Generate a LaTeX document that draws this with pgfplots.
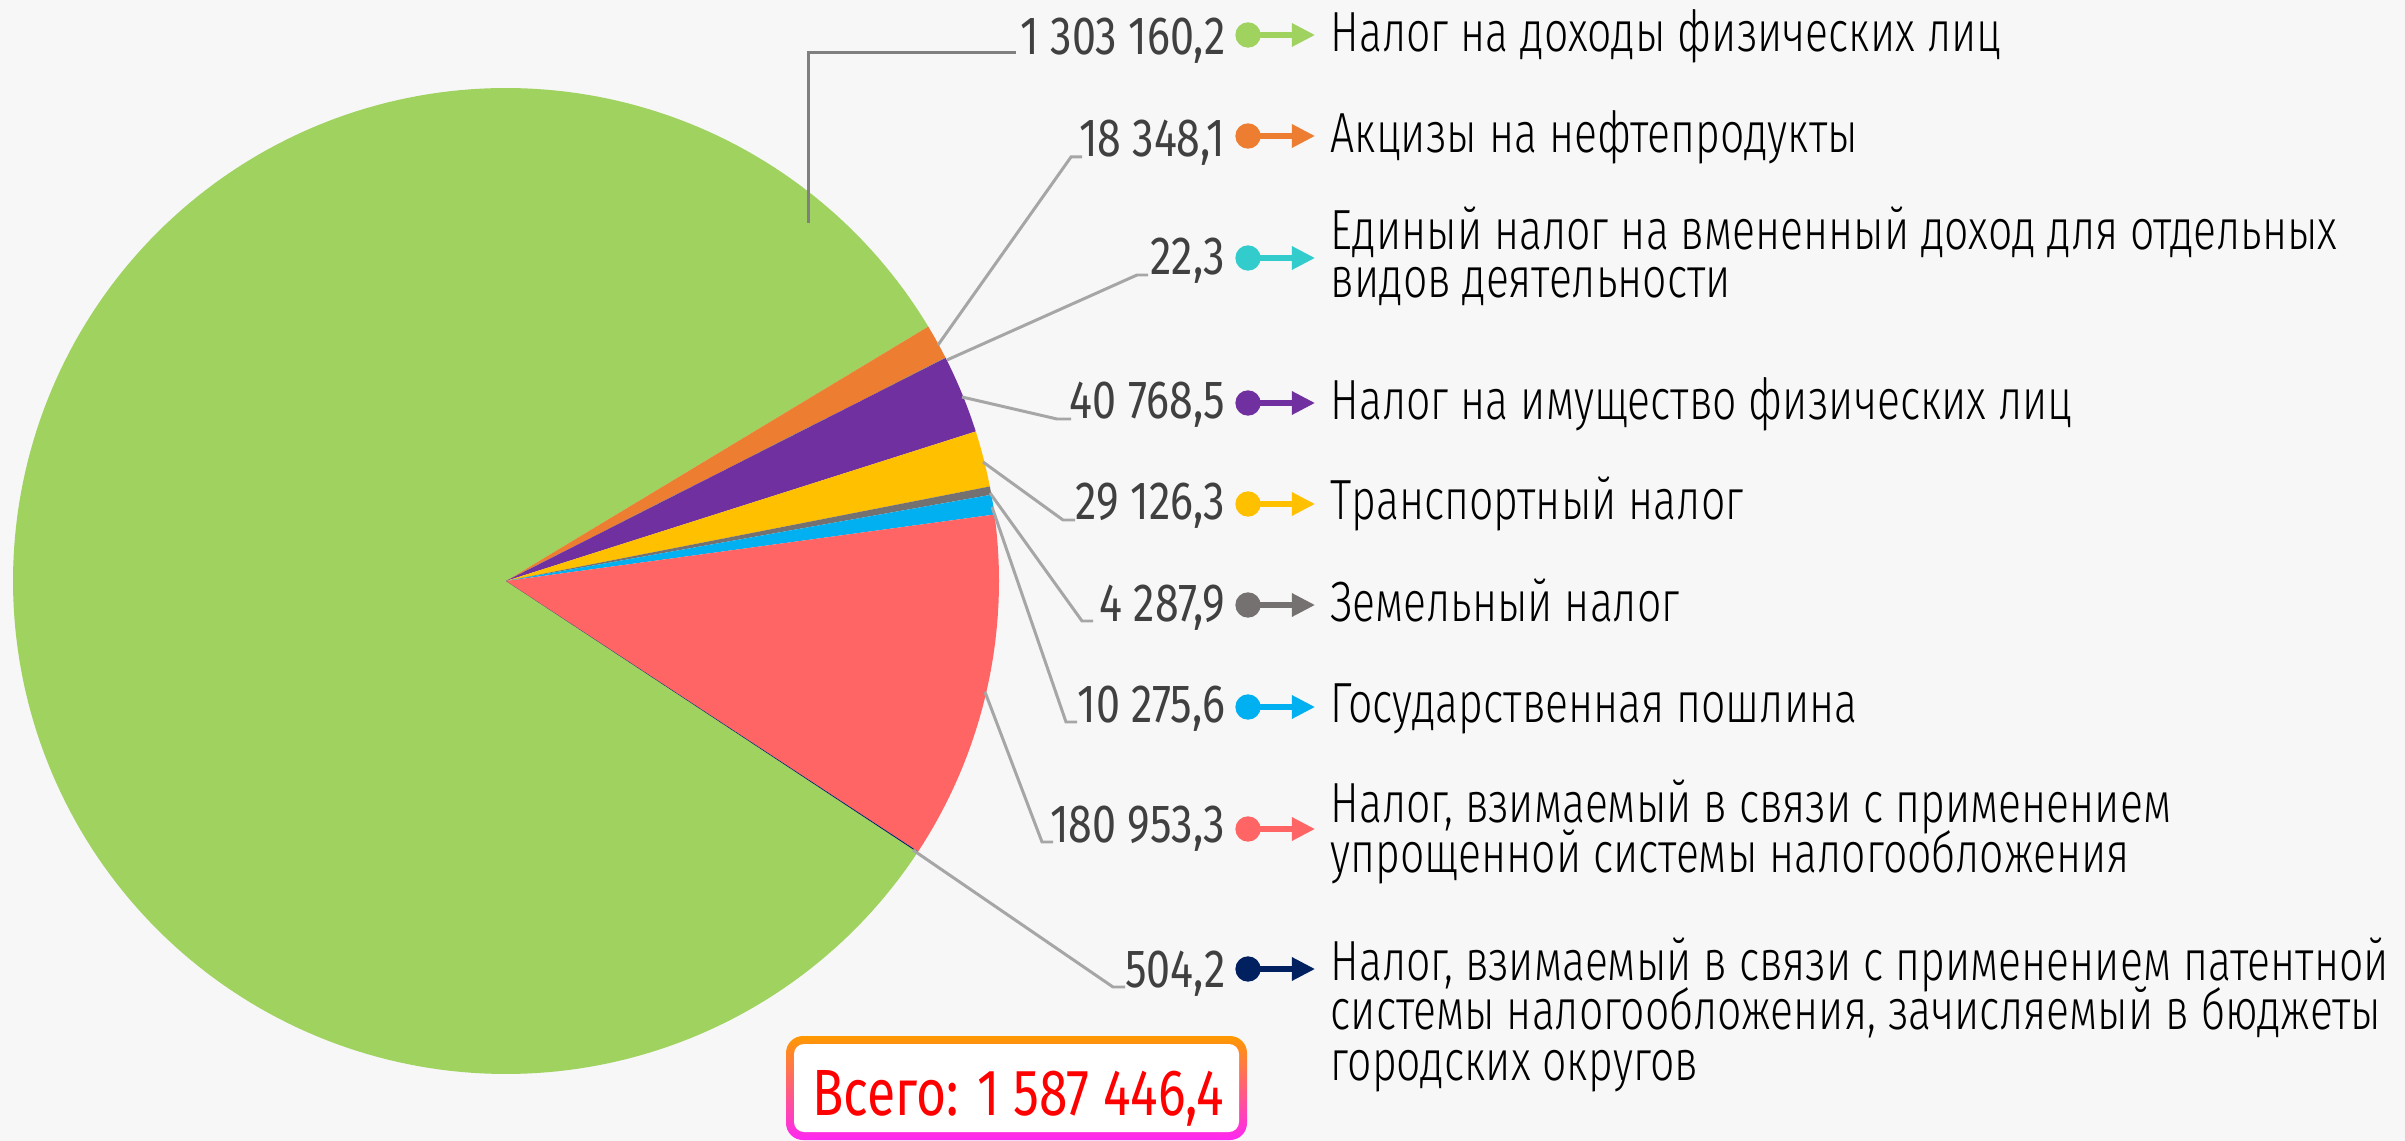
\documentclass[border=0pt]{standalone}
\usepackage{fontspec}
\usepackage{pgfplots}
\pgfplotsset{compat=1.18}
\usetikzlibrary{arrows.meta}
\newfontfamily\lbl{Fira Sans Light}[FakeStretch=0.755]
\newfontfamily\num{Fira Sans}[FakeStretch=0.8]
\definecolor{pgreen}{HTML}{9FD25F}
\definecolor{porange}{HTML}{ED7D31}
\definecolor{pcyan}{HTML}{33CCCC}
\definecolor{ppurple}{HTML}{7030A0}
\definecolor{pyellow}{HTML}{FFC000}
\definecolor{pgray}{HTML}{767171}
\definecolor{pblue}{HTML}{00B0F0}
\definecolor{pred}{HTML}{FF6565}
\definecolor{pnavy}{HTML}{002060}
\definecolor{numcol}{HTML}{404040}
\definecolor{bg}{HTML}{F7F7F7}
% values
\def\T{1587446.4}
\def\Ts{-33.4}
\gdef\cum{0}
\newcommand\pieslice[2]{%
  \xdef\hi{\fpeval{\Ts - 360*(\cum)/\T}}%
  \xdef\lo{\fpeval{\Ts - 360*(\cum+#1)/\T}}%
  \xdef\cum{\fpeval{\cum+#1}}%
  \edef\doplot{\noexpand\addplot[fill=#2, draw=none, domain=\lo:\hi, samples=240] ({506+493*cos(x)},{581-493*sin(x)}) -- (axis cs:506,581) -- cycle;}%
  \doplot
}
\newcommand\row[4]{% color, dot y, number, number baseline
  \addplot[#1, line width=1.45pt, -{Triangle[length=6.6pt,width=6.4pt]}] coordinates {(1248,#2) (1315,#2)};
  \addplot[#1, only marks, mark=*, mark size=3.4pt] coordinates {(1248,#2)};
  \node[anchor=base east, inner sep=0, text=numcol, font=\num\fontsize{15.3}{18}\selectfont] at (axis cs:1226,#4) {#3};
}
\newcommand\lab[2]{%
  \node[anchor=base west, inner sep=0, font=\lbl\fontsize{16.1}{19}\selectfont] at (axis cs:1330,#1) {#2};
}
\begin{document}
\begin{tikzpicture}
\begin{axis}[
  scale only axis, width=24.05cm, height=11.41cm,
  xmin=0, xmax=2405, ymin=0, ymax=1141, y dir=reverse,
  axis lines=none, ticks=none, clip=false,
  axis background/.style={fill=bg},
]
\pieslice{1303160.2}{pgreen}
\pieslice{18348.1}{porange}
\pieslice{22.3}{pcyan}
\pieslice{40768.5}{ppurple}
\pieslice{29126.3}{pyellow}
\pieslice{4287.9}{pgray}
\pieslice{10275.6}{pblue}
\pieslice{180953.3}{pred}
\pieslice{504.2}{pnavy}
% leader lines
\addplot[color=black!50, line width=0.85pt] coordinates {(808,223) (808,53) (1016,53)};
\addplot[color=black!35, line width=0.85pt] coordinates {(938,345) (1071,157) (1082,157)};
\addplot[color=black!35, line width=0.85pt] coordinates {(947,360) (1137,275) (1148,275)};
\addplot[color=black!35, line width=0.85pt] coordinates {(962,397) (1057,419) (1071,419)};
\addplot[color=black!35, line width=0.85pt] coordinates {(983,462) (1063,520) (1075,520)};
\addplot[color=black!35, line width=0.85pt] coordinates {(990,493) (1082,621) (1093,621)};
\addplot[color=black!35, line width=0.85pt] coordinates {(992,507) (1066,722) (1077,722)};
\addplot[color=black!35, line width=0.85pt] coordinates {(985,692) (1042,842) (1053,842)};
\addplot[color=black!35, line width=0.85pt] coordinates {(913,850) (1113,987) (1125,987)};
% rows
\row{pgreen}{35}{1 303 160,2}{55}
\row{porange}{136}{18 348,1}{157}
\row{pcyan}{258}{22,3}{275}
\row{ppurple}{403}{40 768,5}{419}
\row{pyellow}{504}{29 126,3}{520}
\row{pgray}{605}{4 287,9}{621}
\row{pblue}{707}{10 275,6}{722}
\row{pred}{829}{180 953,3}{842}
\row{pnavy}{969}{504,2}{987}
\lab{52}{Налог на доходы физических лиц}
\lab{153}{Акцизы на нефтепродукты}
\lab{250}{Единый налог на вмененный доход для отдельных}
\lab{298}{видов деятельности}
\lab{420}{Налог на имущество физических лиц}
\lab{520}{Транспортный налог}
\lab{621}{Земельный налог}
\lab{722}{Государственная пошлина}
\lab{822}{Налог, взимаемый в связи с применением}
\lab{872}{упрощенной системы налогообложения}
\lab{980}{Налог, взимаемый в связи с применением патентной}
\lab{1029}{системы налогообложения, зачисляемый в бюджеты}
\lab{1080}{городских округов}
% total box
\shade[top color=orange!80!yellow, bottom color=magenta!80!pink, rounded corners=0.17cm] (axis cs:786,1036) rectangle (axis cs:1247,1140);
\fill[white, rounded corners=0.1cm] (axis cs:794,1044) rectangle (axis cs:1239,1132);
\node[anchor=base, inner sep=0, text=red, font=\num\fontsize{18.6}{22}\selectfont\addfontfeatures{FakeStretch=0.79}] at (axis cs:1018,1115) {Всего: 1 587 446,4};
\end{axis}
\pgfresetboundingbox
\useasboundingbox (0,0) rectangle (24.05cm,11.41cm);
\end{tikzpicture}
\end{document}
